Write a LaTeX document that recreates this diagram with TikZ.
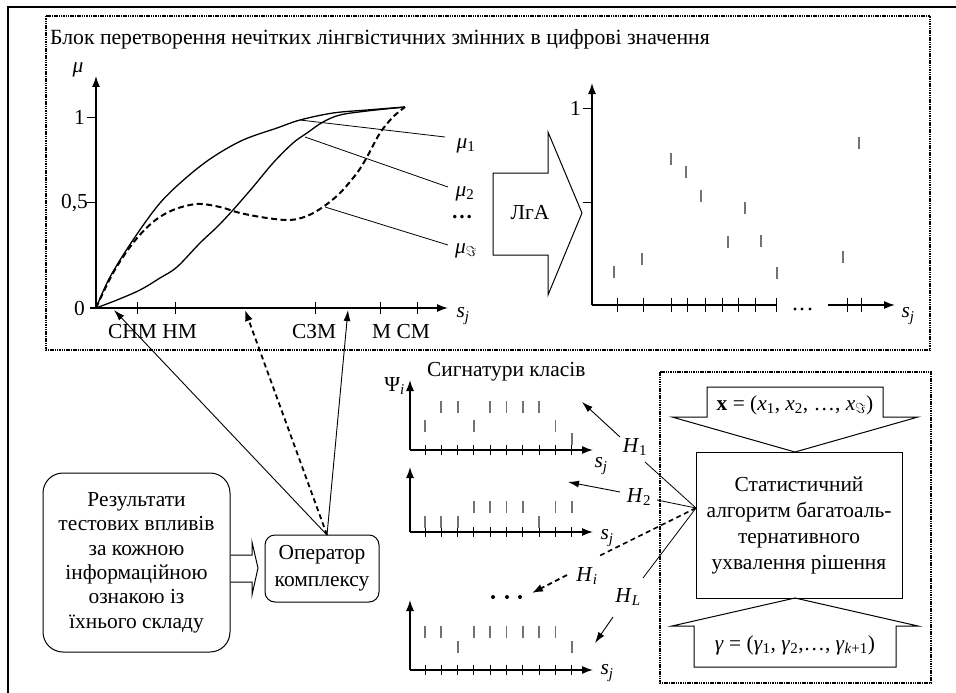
\documentclass[tikz,border=0pt]{standalone}
\usepackage{fontspec}
\setmainfont{Liberation Serif}
\usetikzlibrary{arrows.meta}
\newcommand\sbs[1]{\textsubscript{#1}}
\begin{document}
\begin{tikzpicture}[x=1pt,y=-1pt, font=\fontsize{21.4}{24.4}\selectfont,
  ax/.style={line width=1.4pt,-{Latex[length=11pt,width=8pt]}},
  tk/.style={line width=1pt},
  bar/.style={line width=1.8pt, draw=black!55},
  frm/.style={line width=2.4pt, draw=black, dash pattern=on 1.5pt off 0.8pt},
  thn/.style={line width=0.8pt},
  arr/.style={line width=0.9pt,-{Latex[length=11pt,width=7pt]}},
  darr/.style={line width=1.8pt,dash pattern=on 5pt off 3.5pt,-{Latex[length=11pt,width=8pt]}},
  curve/.style={line width=1.3pt},
  lbl/.style={inner sep=0pt}
]
\useasboundingbox (0,0) rectangle (956,693);
% outer frame (partly cropped)
\draw[line width=1.2pt] (8,693) -- (8,7) -- (956,7);
% dotted frames
\draw[frm] (46,16) rectangle (930,350);
\draw[frm] (660,372) rectangle (931,683);
\node[lbl, anchor=base west, font=\fontsize{21.7}{24.4}\selectfont] (title) at (50,45) {Блок перетворення нечітких лінгвістичних змінних в цифрові значення};

% ---- membership graph
\coordinate (O1) at (96,308);
\coordinate (Y1) at (96,76);
\coordinate (X0) at (90,308);
\coordinate (X1) at (448,308);
\draw[ax] (O1) -- (Y1);
\draw[ax] (X0) -- (X1);
\node[lbl] (mu) at (78,70) {\textit{μ}};
\foreach \y in {117,202} \draw[tk] (87,\y) -- (96,\y);
\node[lbl, anchor=east] (one) at (85,117) {1};
\node[lbl, anchor=east] (half) at (88,203) {0,5};
\node[lbl, anchor=east] (zero) at (85,308) {0};
\foreach \x in {137,175,315,380,417} \draw[tk] (\x,302) -- (\x,314);
\node[lbl, anchor=base west] (l1) at (108,338) {СНМ НМ};
\node[lbl, anchor=base west] (l2) at (292,338) {СЗМ};
\node[lbl, anchor=base west] (l3) at (372,338) {М СМ};
\node[lbl] (sj1) at (463,316) {\textit{s}\sbs{\textit{j}}};
\draw[curve] plot[smooth, tension=0.55] coordinates {(96,308) (110,277) (133,240) (160,203) (187,177) (213,157) (243,140) (277,128) (300,120) (333,113) (367,110) (405,107)};
\draw[curve] plot[smooth, tension=0.55] coordinates {(96,308) (117,300) (140,290) (160,278) (177,267) (200,243) (217,227) (233,210) (253,187) (273,163) (293,143) (307,133) (323,122) (340,115) (367,111) (405,107)};
\draw[line width=2pt, dash pattern=on 6pt off 3.5pt] plot[smooth, tension=0.55] coordinates {(96,308) (113,273) (133,243) (153,222) (173,210) (197,204) (220,207) (240,213) (267,218) (290,220) (307,216) (323,207) (340,193) (357,173) (367,157) (380,133) (393,117) (405,107)};
\node[lbl] (m1) at (466,146) {\textit{μ}\sbs{1}};
\node[lbl] (m2) at (465,194) {\textit{μ}\sbs{2}};
\node[lbl] (mdots) at (462,217) {\textbf{…}};
\node[lbl] (m3) at (466,251) {\textit{μ}\sbs{$\Im$}};
\coordinate (c1) at (300,120); \coordinate (e1) at (445,137);
\coordinate (c2) at (305,137); \coordinate (e2) at (448,187);
\coordinate (c3) at (325,207); \coordinate (e3) at (448,245);
\draw[thn] (c1) -- (e1);
\draw[thn] (c2) -- (e2);
\draw[thn] (c3) -- (e3);

% ---- LgA arrow
\draw[line width=1pt] (493,173) -- (548,173) -- (548,132) -- (582,213) -- (548,295) -- (548,255) -- (493,255) -- cycle;
\node[lbl] (lga) at (530,213) {ЛгА};

% ---- right graph
\coordinate (O2) at (592,305);
\coordinate (Y2) at (592,83);
\coordinate (X2a) at (777,305);
\coordinate (X2b) at (828,305);
\coordinate (X2) at (895,305);
\draw[ax] (O2) -- (Y2);
\draw[line width=1.4pt] (O2) -- (X2a);
\draw[ax] (X2b) -- (X2);
\draw[tk] (583,108) -- (592,108);
\draw[tk] (583,202) -- (592,202);
\node[lbl, anchor=east] (one2) at (581,108) {1};
\foreach \x in {617,643,671,687,705,722,738,755,776,847,861} \draw[tk] (\x,298) -- (\x,312);
\foreach \x in {795,802,810} \fill (\x,309) circle (1.6);
\foreach \x/\y in {614/272, 642/259, 671/159, 686/172, 701/196, 728/242, 745/208, 761/241, 777/273, 843/257, 859/143} \draw[bar] (\x,\y-6) -- (\x,\y+6);
\node[lbl] (sj2) at (908,316) {\textit{s}\sbs{\textit{j}}};

% ---- signatures
\node[lbl, anchor=base west] (sig) at (427,376) {Сигнатури класів};
\node[lbl, anchor=east] (psi) at (405,386) {Ψ\sbs{\textit{i}}};
\foreach \ay/\ty in {450/380, 532/467, 670/600} {
  \draw[ax] (410,\ay) -- (410,\ty);
  \draw[ax] (410,\ay) -- (593,\ay);
  \foreach \k in {0,...,9} \draw[tk] ({425+16.3*\k},{\ay-5}) -- ({425+16.3*\k},{\ay+5});
}
\foreach \k in {1,2,4,5,6,7} \draw[bar] ({425+16.3*\k},401) -- ({425+16.3*\k},413);
\foreach \k in {0,3,8} \draw[bar] ({425+16.3*\k},420) -- ({425+16.3*\k},432);
\draw[bar] ({425+16.3*9},433) -- ({425+16.3*9},445);
\foreach \k in {3,4,5,6,8,9} \draw[bar] ({425+16.3*\k},501) -- ({425+16.3*\k},513);
\foreach \k in {0,1,2,7} \draw[bar] ({425+16.3*\k},516) -- ({425+16.3*\k},528);
\foreach \k in {0,1,3,4,5,6,7,8} \draw[bar] ({425+16.3*\k},626) -- ({425+16.3*\k},638);
\foreach \k in {2,9} \draw[bar] ({425+16.3*\k},641) -- ({425+16.3*\k},653);
\node[lbl] (sj3) at (601,466) {\textit{s}\sbs{\textit{j}}};
\node[lbl] (sj4) at (607,538) {\textit{s}\sbs{\textit{j}}};
\node[lbl] (sj5) at (607,673) {\textit{s}\sbs{\textit{j}}};
\foreach \x in {493,507,520} \fill (\x,597) circle (2);

% ---- decision block
\node[draw, line width=1pt, minimum width=206pt, minimum height=146pt, align=center, inner sep=0pt, font=\fontsize{21.4}{26}\selectfont] (alg) at (799,525) {Статистичний\\алгоритм багатоаль-\\тернативного\\ухвалення рішення};
\draw[line width=1pt] (707,387) -- (883,387) -- (883,417) -- (918,417) -- (795,452) -- (672,417) -- (707,417) -- cycle;
\node[lbl] (xvec) at (795,405) {\textbf{x} = (\textit{x}\sbs{1}, \textit{x}\sbs{2}, …, \textit{x}\sbs{$\Im$})};
\draw[line width=1pt] (694,667) -- (896,667) -- (896,626) -- (918,626) -- (795,598) -- (672,626) -- (694,626) -- cycle;
\node[lbl] (gvec) at (795,645) {\textit{γ} = (\textit{γ}\sbs{1}, \textit{γ}\sbs{2},…, \textit{γ}\sbs{\textit{k}+1})};

% ---- hypotheses
\coordinate (src) at (696,508);
\node[lbl] (h1) at (635,447) {\textit{H}\sbs{1}};
\node[lbl] (h2) at (639,497) {\textit{H}\sbs{2}};
\node[lbl] (hi) at (587,576) {\textit{H}\sbs{\textit{i}}};
\node[lbl] (hl) at (628,597) {\textit{H}\sbs{\textit{L}}};
\coordinate (h1a) at (645,462); \coordinate (h1b) at (620,437); \coordinate (h1t) at (582,402);
\coordinate (h2a) at (657,500); \coordinate (h2b) at (620,492); \coordinate (h2t) at (568,482);
\coordinate (hia) at (597,557); \coordinate (hib) at (567,575); \coordinate (hit) at (532,593);
\coordinate (hla) at (643,578); \coordinate (hlb) at (613,617); \coordinate (hlt) at (595,643);
\draw[thn] (src) -- (h1a);
\draw[thn] (src) -- (h2a);
\draw[line width=1.6pt, dash pattern=on 5pt off 3.5pt] (src) -- (hia);
\draw[thn] (src) -- (hla);
\draw[arr] (h1b) -- (h1t);
\draw[arr] (h2b) -- (h2t);
\draw[darr] (hib) -- (hit);
\draw[arr] (hlb) -- (hlt);

% ---- bottom left
\node[draw, line width=1pt, rounded corners=20pt, minimum width=187pt, minimum height=179pt, align=center, inner sep=0pt] (res) at (136.5,562.5) {Результати\\тестових впливів\\за кожною\\інформаційною\\ознакою із\\їхнього складу};
\node[draw, line width=1pt, rounded corners=10pt, minimum width=114pt, minimum height=67pt, align=center, inner sep=0pt, font=\fontsize{21.4}{27}\selectfont] (op) at (322,568.5) {Оператор\\комплексу};
\draw[line width=1pt] (res.east |- 0,555) -- (252,555) -- (252,542) -- (258,568) -- (252,595) -- (252,582) -- (res.east |- 0,582);
\coordinate (opt) at (327,535);
\coordinate (t1) at (114,310);
\coordinate (t2) at (245,310);
\coordinate (t3) at (348,310);
\draw[arr] (opt) -- (t1);
\draw[darr] (opt) -- (t2);
\draw[arr] (opt) -- (t3);
\end{tikzpicture}
\end{document}
